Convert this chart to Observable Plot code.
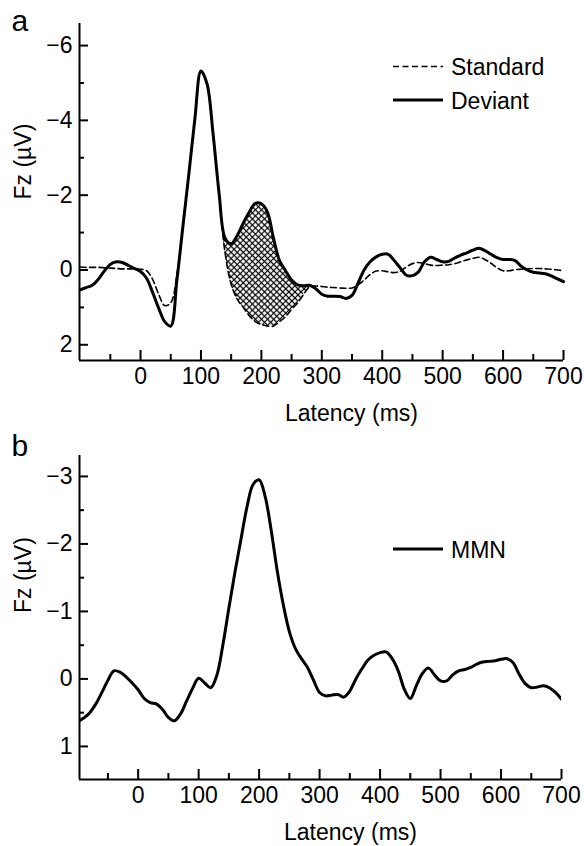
<!DOCTYPE html>
<html>
<head>
<meta charset="utf-8">
<script src="https://cdn.jsdelivr.net/npm/d3@7"></script>
<script src="https://cdn.jsdelivr.net/npm/@observablehq/plot@0.6"></script>
<style>
  html, body { margin: 0; padding: 0; background: #fff; }
  #page { position: relative; width: 584px; height: 846px; overflow: hidden; }
  #page > svg { position: absolute; left: 0; }
</style>
</head>
<body>
<div id="page"></div>
<script>
const FONT = "'Liberation Sans', Arial, Helvetica, sans-serif";

// ---------- Panel a : ERPs (µV, negative up) ----------
const latencyA = [-100,-90,-80,-70,-60,-50,-40,-30,-20,-10,0,10,20,30,40,50,60,70,80,90,100,110,120,130,140,150,160,170,180,190,200,210,220,230,240,250,260,270,280,290,300,310,320,330,340,350,360,370,380,390,400,410,420,430,440,450,460,470,480,490,500,510,520,530,540,550,560,570,580,590,600,610,620,630,640,650,660,670,680,690,700];
const deviant = [0.53,0.47,0.41,0.25,0.03,-0.15,-0.22,-0.2,-0.12,-0.04,0.04,0.22,0.6,1.02,1.38,1.5,0.3,-1.15,-2.57,-4.05,-5.32,-4.98,-3.65,-2.05,-0.85,-0.7,-0.92,-1.25,-1.55,-1.78,-1.77,-1.55,-0.85,-0.25,0.02,0.27,0.4,0.42,0.41,0.5,0.65,0.7,0.7,0.71,0.76,0.68,0.35,0.0,-0.22,-0.35,-0.42,-0.42,-0.25,-0.05,0.14,0.15,0.05,-0.22,-0.34,-0.28,-0.22,-0.23,-0.32,-0.4,-0.46,-0.53,-0.58,-0.52,-0.42,-0.33,-0.28,-0.28,-0.25,-0.1,0.0,0.06,0.08,0.1,0.16,0.24,0.31];
const standard = [-0.08,-0.07,-0.07,-0.07,-0.06,-0.05,-0.04,-0.03,-0.03,-0.03,-0.02,0.02,0.25,0.65,0.95,0.88,0.15,-1.15,-2.57,-4.05,-5.32,-4.98,-3.65,-2.05,-0.45,0.38,0.78,1.0,1.22,1.38,1.46,1.5,1.5,1.38,1.25,1.05,0.88,0.65,0.45,0.43,0.44,0.46,0.47,0.48,0.49,0.48,0.4,0.27,0.12,0.03,0.02,0.05,0.07,0.03,-0.08,-0.17,-0.2,-0.17,-0.13,-0.12,-0.13,-0.14,-0.17,-0.22,-0.27,-0.31,-0.34,-0.28,-0.18,-0.06,0.02,0.02,-0.01,-0.02,-0.03,-0.04,-0.04,-0.03,-0.02,0.0,0.02];

// ---------- Panel b : MMN difference wave ----------
const latencyB = [-100,-90,-80,-70,-60,-50,-40,-30,-20,-10,0,10,20,30,40,50,60,70,80,90,100,110,120,130,140,150,160,170,180,190,200,210,220,230,240,250,260,270,280,290,300,310,320,330,340,350,360,370,380,390,400,410,420,430,440,450,460,470,480,490,500,510,520,530,540,550,560,570,580,590,600,610,620,630,640,650,660,670,680,690,700];
const mmn = [0.63,0.58,0.5,0.37,0.2,0.02,-0.12,-0.1,-0.03,0.06,0.16,0.29,0.35,0.37,0.45,0.57,0.62,0.52,0.33,0.14,-0.01,0.06,0.13,-0.05,-0.5,-1.05,-1.58,-2.07,-2.55,-2.88,-2.95,-2.7,-2.2,-1.6,-1.1,-0.7,-0.45,-0.3,-0.17,0.02,0.2,0.25,0.24,0.23,0.27,0.18,0.0,-0.15,-0.28,-0.35,-0.39,-0.4,-0.3,-0.12,0.15,0.29,0.1,-0.08,-0.16,-0.06,0.03,0.03,-0.06,-0.12,-0.14,-0.17,-0.22,-0.25,-0.26,-0.27,-0.29,-0.3,-0.24,-0.07,0.07,0.13,0.12,0.1,0.13,0.2,0.3];

// ---------- ticks, labels ----------
const xTicksMajor = [0,100,200,300,400,500,600,700];
const xTicksMinor = [-50,50,150,250,350,450,550,650];
const yTicksMajorA = [-6,-4,-2,0,2];
const yTicksMinorA = [-5,-3,-1,1];
const yTicksMajorB = [-3,-2,-1,0,1];
const yTicksMinorB = [-2.5,-1.5,-0.5,0.5];
const xDomainA = [-101, 700];
const yDomainA = [-6.59, 2.42];
const xDomainB = [-97, 700];
const yDomainB = [-3.31, 1.49];
const hatchRange = [130, 280];
const panelLabels = ["a", "b"];
const legendA = ["Standard", "Deviant"];
const legendB = ["MMN"];
const xTitle = "Latency (ms)";
const yTitle = "Fz (µV)";

const fmt = d => d < 0 ? "\u2212" + (-d) : String(d);

function frameMarks(xDomain, yDomain, yMaj, yMin, opts) {
  return [
    Plot.ruleX([xDomain[0]], {stroke: "#000", strokeWidth: 2}),
    Plot.ruleY([yDomain[1]], {stroke: "#000", strokeWidth: 2}),
    Plot.axisX(xTicksMajor, {tickSize: -10, strokeWidth: 2, fill: "none", label: null}),
    Plot.axisX(xTicksMinor, {tickSize: -6, strokeWidth: 2, fill: "none", label: null}),
    Plot.axisX(xTicksMajor, {tickSize: 0, tickPadding: 7, tickFormat: fmt, fontSize: 23, fill: "#000", label: null}),
    Plot.axisY(yMaj, {tickSize: -9, strokeWidth: 2, fill: "none", label: null}),
    Plot.axisY(yMin, {tickSize: -5, strokeWidth: 2, fill: "none", label: null}),
    Plot.axisY(yMaj, {tickSize: 0, tickPadding: 7, tickFormat: fmt, fontSize: 23, fill: "#000", label: null}),
    Plot.text([xTitle], {frameAnchor: "bottom", lineAnchor: "bottom", dx: opts.xTitleDx, dy: opts.xTitleDy, fontSize: 23, fill: "#000"}),
    Plot.text([yTitle], {frameAnchor: "left", rotate: -90, lineAnchor: "bottom", dx: opts.yTitleDx, dy: opts.yTitleDy, fontSize: 23, fill: "#000"}),
    Plot.text([opts.letter], {frameAnchor: "top-left", textAnchor: "start", lineAnchor: "bottom", dx: -68, dy: opts.letterDy, fontSize: 30, fill: "#000"})
  ];
}

const rowsA = latencyA.map((t, i) => ({t, dev: deviant[i], std: standard[i]}));
const hatchRows = rowsA.filter(d => d.t >= hatchRange[0] && d.t <= hatchRange[1]);
const rowsB = latencyB.map((t, i) => ({t, v: mmn[i]}));

const plotA = Plot.plot({
  width: 584, height: 430,
  marginTop: 23, marginBottom: 70, marginLeft: 79, marginRight: 21,
  style: {fontFamily: FONT, fontSize: "22px", color: "#000", background: "transparent"},
  x: {domain: xDomainA},
  y: {domain: yDomainA, reverse: true},
  marks: [
    Plot.areaY(hatchRows, {x: "t", y1: "std", y2: "dev", fill: "url(#xhatch)", curve: "catmull-rom"}),
    Plot.line(rowsA, {x: "t", y: "std", stroke: "#000", strokeWidth: 1.6, strokeDasharray: "6,3.5", curve: "catmull-rom"}),
    Plot.line(rowsA, {x: "t", y: "dev", stroke: "#000", strokeWidth: 3, curve: "catmull-rom", strokeLinejoin: "round"}),
    ...frameMarks(xDomainA, yDomainA, yTicksMajorA, yTicksMinorA,
      {xTitleDx: 30, xTitleDy: 60, yTitleDx: -49, yTitleDy: 7.5, letter: panelLabels[0], letterDy: 7})
  ]
});

// crosshatch pattern
{
  const svg = d3.select(plotA);
  const defs = svg.insert("defs", ":first-child");
  const s = 4.3;
  const p = defs.append("pattern").attr("id", "xhatch").attr("patternUnits", "userSpaceOnUse")
    .attr("width", s).attr("height", s).attr("patternTransform", "rotate(45)");
  p.append("rect").attr("width", s).attr("height", s).attr("fill", "#fff");
  p.append("path").attr("d", `M0,${s/2}H${s}M${s/2},0V${s}`).attr("stroke", "#000").attr("stroke-width", 1.1);
}

const plotB = Plot.plot({
  width: 584, height: 416,
  marginTop: 25, marginBottom: 67, marginLeft: 79, marginRight: 23,
  style: {fontFamily: FONT, fontSize: "22px", color: "#000", background: "transparent"},
  x: {domain: xDomainB},
  y: {domain: yDomainB, reverse: true},
  marks: [
    Plot.line(rowsB, {x: "t", y: "v", stroke: "#000", strokeWidth: 3, curve: "catmull-rom", clip: true}),
    ...frameMarks(xDomainB, yDomainB, yTicksMajorB, yTicksMinorB,
      {xTitleDx: 30, xTitleDy: 60, yTitleDx: -49, yTitleDy: -4.5, letter: panelLabels[1], letterDy: 0})
  ]
});

const page = document.getElementById("page");
plotA.style.top = "0px";
plotB.style.top = "430px";
page.appendChild(plotA);
page.appendChild(plotB);

// legends
const leg = d3.select(page).append("svg").attr("width", 584).attr("height", 846)
  .style("position", "absolute").style("top", "0px").style("left", "0px")
  .style("font-family", FONT).style("font-size", "23px");
const legendItems = [
  {label: legendA[0], y: 66.5, dash: "6,3.5", w: 1.6},
  {label: legendA[1], y: 100, dash: null, w: 3},
  {label: legendB[0], y: 549, dash: null, w: 3}
];
for (const it of legendItems) {
  leg.append("line").attr("x1", 393).attr("x2", 443).attr("y1", it.y).attr("y2", it.y)
    .attr("stroke", "#000").attr("stroke-width", it.w).attr("stroke-dasharray", it.dash);
  leg.append("text").attr("x", 451).attr("y", it.y + 8.5).attr("fill", "#000").text(it.label);
}
</script>
</body>
</html>
